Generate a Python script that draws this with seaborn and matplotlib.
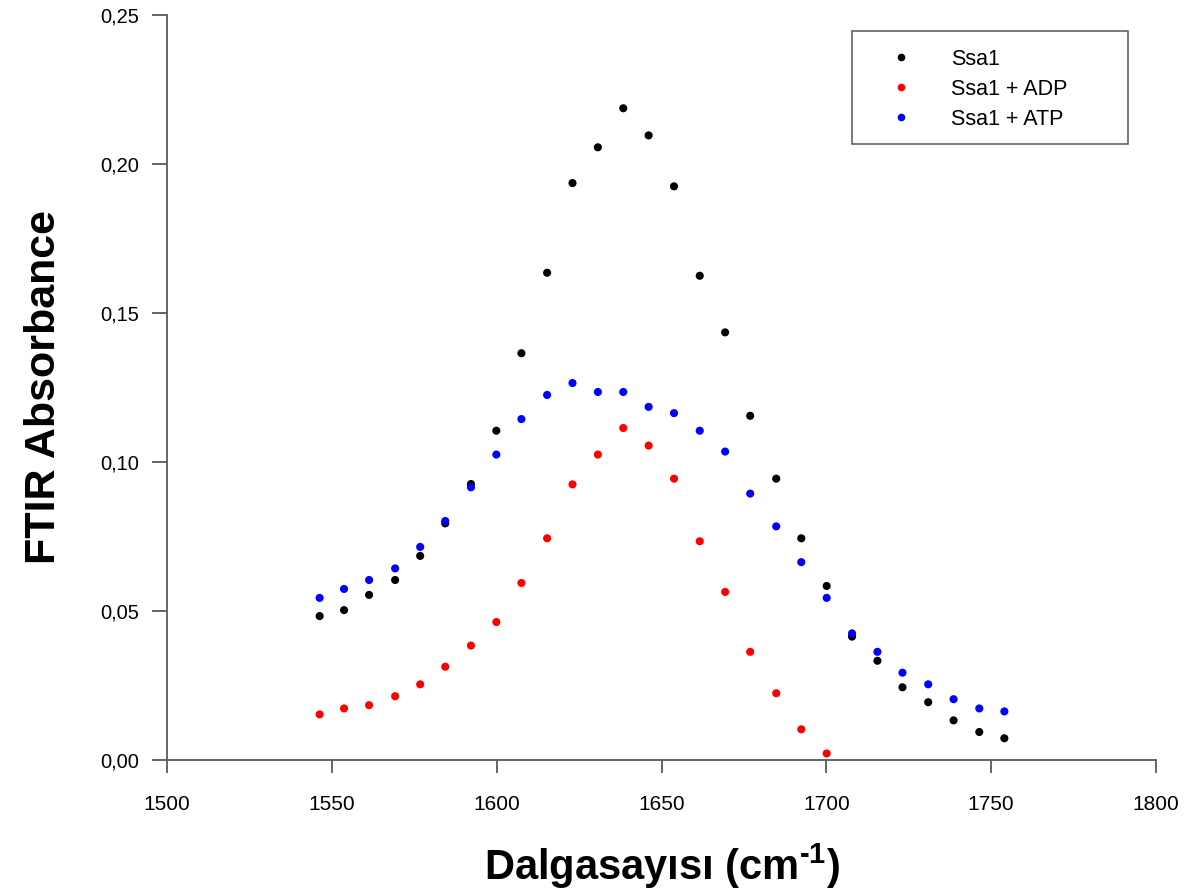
import numpy as np
import pandas as pd
import matplotlib
matplotlib.use("Agg")
import matplotlib.pyplot as plt
from matplotlib.lines import Line2D
from matplotlib.patches import Rectangle
import seaborn as sns

# ---- data ----
wavenumber = [1546.3, 1553.7, 1561.3, 1569.2, 1576.8, 1584.4, 1592.2, 1599.9,
              1607.5, 1615.3, 1623.0, 1630.7, 1638.4, 1646.1, 1653.8, 1661.6,
              1669.3, 1676.9, 1684.8, 1692.4, 1700.1, 1707.8, 1715.5, 1723.1,
              1730.9, 1738.6, 1746.4, 1754.0]

ssa1 = [0.0483, 0.0503, 0.0554, 0.0604, 0.0685, 0.0794, 0.0926, 0.1105,
        0.1365, 0.1635, 0.1936, 0.2056, 0.2187, 0.2096, 0.1925, 0.1625,
        0.1435, 0.1155, 0.0944, 0.0744, 0.0584, 0.0414, 0.0333, 0.0244,
        0.0194, 0.0133, 0.0094, 0.0073]

ssa1_adp = [0.0153, 0.0173, 0.0184, 0.0214, 0.0254, 0.0313, 0.0384, 0.0463,
            0.0594, 0.0744, 0.0925, 0.1025, 0.1114, 0.1055, 0.0944, 0.0734,
            0.0564, 0.0363, 0.0224, 0.0103, 0.0022]

ssa1_atp = [0.0544, 0.0574, 0.0604, 0.0643, 0.0715, 0.0802, 0.0915, 0.1025,
            0.1144, 0.1225, 0.1265, 0.1235, 0.1235, 0.1185, 0.1164, 0.1105,
            0.1035, 0.0894, 0.0784, 0.0664, 0.0544, 0.0425, 0.0363, 0.0293,
            0.0254, 0.0204, 0.0173, 0.0163]

series_names = ["Ssa1", "Ssa1 + ADP", "Ssa1 + ATP"]
series_colors = ["#000000", "#ff0000", "#0000ff"]

x_ticks = [1500, 1550, 1600, 1650, 1700, 1750, 1800]
x_tick_labels = ["1500", "1550", "1600", "1650", "1700", "1750", "1800"]
y_ticks = [0.00, 0.05, 0.10, 0.15, 0.20, 0.25]
y_tick_labels = ["0,00", "0,05", "0,10", "0,15", "0,20", "0,25"]

x_label = "Dalgasayısı (cm$^{\\text{-1}}$)"
y_label = "FTIR Absorbance"

# ---- build long-form table ----
frames = []
for name, vals in zip(series_names, [ssa1, ssa1_adp, ssa1_atp]):
    frames.append(pd.DataFrame({"x": wavenumber[:len(vals)], "y": vals, "series": name}))
df = pd.concat(frames, ignore_index=True)

sns.set_style("ticks")
plt.rcParams["font.family"] = ["Liberation Sans", "DejaVu Sans"]
plt.rcParams["mathtext.fontset"] = "custom"
plt.rcParams["mathtext.rm"] = "Liberation Sans:bold"
plt.rcParams["mathtext.bf"] = "Liberation Sans:bold"
plt.rcParams["mathtext.default"] = "rm"
plt.rcParams["text.color"] = "black"
plt.rcParams["axes.labelcolor"] = "black"
plt.rcParams["xtick.color"] = "black"
plt.rcParams["ytick.color"] = "black"

W, H = 1193, 889
fig = plt.figure(figsize=(W / 100, H / 100), dpi=100)
ax = fig.add_axes([167 / W, 1 - 760 / H, (1156 - 167) / W, (760 - 15) / H])

sns.scatterplot(data=df, x="x", y="y", hue="series", hue_order=series_names,
                palette=dict(zip(series_names, series_colors)),
                s=34, linewidth=0, legend=False, ax=ax)

ax.set_xlim(1500, 1800)
ax.set_ylim(0, 0.25)
ax.set_xticks(x_ticks)
ax.set_xticklabels(x_tick_labels)
ax.set_yticks(y_ticks)
ax.set_yticklabels(y_tick_labels)

sns.despine(ax=ax)
for side in ["left", "bottom"]:
    ax.spines[side].set_color("#5a5a5a")
    ax.spines[side].set_linewidth(1.3)

ax.tick_params(axis="x", direction="out", length=9, width=1.1, color="#3a3a3a",
               labelsize=15, pad=16)
ax.tick_params(axis="y", direction="out", length=11, width=1.1, color="#3a3a3a",
               labelsize=14.5, pad=9)

ax.set_xlabel(x_label, fontsize=30, fontweight="bold", labelpad=20)
ax.set_ylabel(y_label, fontsize=31, fontweight="bold", labelpad=26)

# legend frame
fig.patches.append(Rectangle((852 / W, 1 - 144 / H), (1128 - 852) / W, (144 - 31) / H,
                             transform=fig.transFigure, fill=False,
                             edgecolor="#555555", linewidth=1.1, zorder=5))

handles = [Line2D([], [], marker="o", linestyle="", color=c, markeredgewidth=0,
                  markersize=5.5) for c in series_colors]
leg = ax.legend(handles, series_names, loc="upper left",
                bbox_to_anchor=(875 / W, 1 - 49 / H),
                bbox_transform=fig.transFigure, borderaxespad=0,
                fontsize=15.5, frameon=False,
                borderpad=0, handlelength=2.4, handletextpad=1.12,
                labelspacing=0.41)

fig.savefig("out.png", dpi=100)
